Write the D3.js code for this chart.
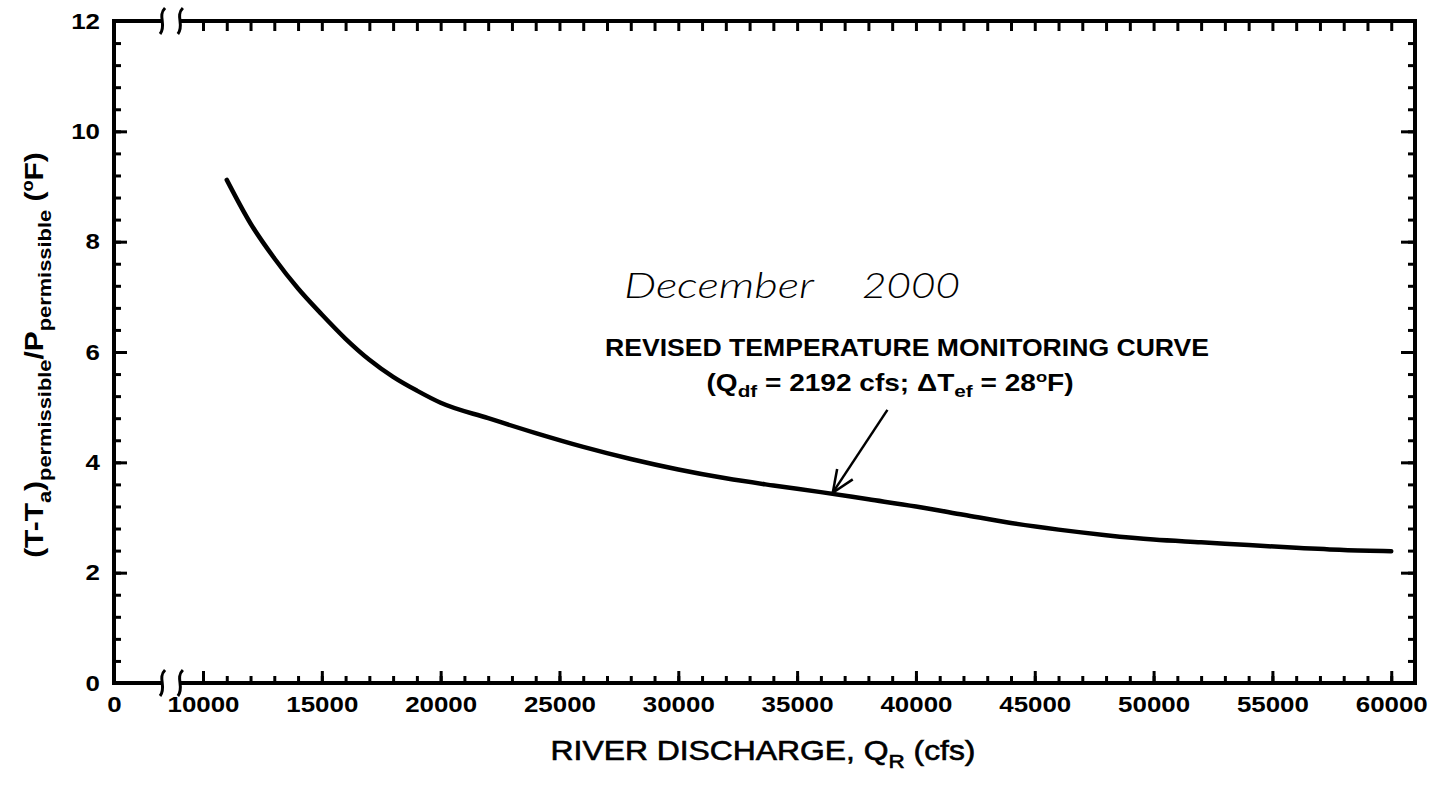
<!DOCTYPE html>
<html>
<head>
<meta charset="utf-8">
<script src="https://cdn.jsdelivr.net/npm/d3@7"></script>
<style>
body { margin: 0; background: #ffffff; }
</style>
</head>
<body>
<div id="chart"></div>
<script>
// river discharge (cfs) and permissible temperature rise (deg F)
var discharge = [11000, 12000, 13000, 14000, 15000, 16000, 17000, 18000, 19000, 20000,
                 22000, 24000, 26000, 28000, 30000, 32000, 34000, 36000, 38000, 40000,
                 42000, 44000, 46000, 48000, 50000, 52000, 54000, 56000, 58000, 60000];
var tempRise = [9.12, 8.33, 7.70, 7.15, 6.68, 6.24, 5.86, 5.55, 5.30, 5.08,
                4.80, 4.53, 4.28, 4.06, 3.87, 3.71, 3.58, 3.46, 3.33, 3.20,
                3.05, 2.90, 2.78, 2.68, 2.60, 2.55, 2.50, 2.45, 2.41, 2.39];

var xTickLabels = [0, 10000, 15000, 20000, 25000, 30000, 35000, 40000, 45000, 50000, 55000, 60000];
var yTickLabels = [0, 2, 4, 6, 8, 10, 12];
var axisBreak = [5400, 7400];
var arrowFrom = [38800, 4.95];
var arrowTo = [36500, 3.45];

function draw_monitoring_curve() {

    var width = 1446, height = 787;
    var font = "'Liberation Sans', Arial, sans-serif";

    var x = d3.scaleLinear().domain([0, 10000, 61000]).range([114, 203, 1415]);
    var y = d3.scaleLinear().domain([0, 12]).range([683, 21]);

    var svg = d3.select("#chart").append("svg")
        .attr("width", width)
        .attr("height", height)
        .style("background-color", "white");

    var minorX = d3.range(10000, 60001, 1000);
    var minorY = d3.range(0, 12.01, 0.4).map(function(d) { return +d.toFixed(1); });

    // tick marks, all pointing into the plot
    var ticks = svg.append("g").attr("class", "ticks");

    ticks.append("g")
        .attr("transform", "translate(0," + y(0) + ")")
        .call(d3.axisBottom(x).tickValues(minorX).tickSize(-7).tickFormat(""));
    ticks.append("g")
        .attr("transform", "translate(0," + y(0) + ")")
        .call(d3.axisBottom(x).tickValues(xTickLabels.slice(1)).tickSize(-12).tickFormat(""));
    ticks.append("g")
        .attr("transform", "translate(0," + y(12) + ")")
        .call(d3.axisTop(x).tickValues(minorX).tickSize(-10).tickFormat(""));
    ticks.append("g")
        .attr("transform", "translate(" + x(0) + ",0)")
        .call(d3.axisLeft(y).tickValues(minorY).tickSize(-7).tickFormat(""));
    ticks.append("g")
        .attr("transform", "translate(" + x(0) + ",0)")
        .call(d3.axisLeft(y).tickValues(yTickLabels).tickSize(-13).tickFormat(""));
    ticks.append("g")
        .attr("transform", "translate(" + x(61000) + ",0)")
        .call(d3.axisRight(y).tickValues(minorY).tickSize(-7).tickFormat(""));
    ticks.append("g")
        .attr("transform", "translate(" + x(61000) + ",0)")
        .call(d3.axisRight(y).tickValues(yTickLabels).tickSize(-14).tickFormat(""));

    ticks.selectAll(".domain").remove();
    ticks.selectAll("line").attr("stroke", "#000").attr("stroke-width", 3);

    // tick labels (the scanned digits are wide, so stretch them)
    var xl = svg.append("g")
        .attr("transform", "translate(0," + y(0) + ")")
        .call(d3.axisBottom(x).tickValues(xTickLabels).tickSize(0).tickPadding(13).tickFormat(d3.format("d")));
    var yl = svg.append("g")
        .attr("transform", "translate(" + x(0) + ",0)")
        .call(d3.axisLeft(y).tickValues(yTickLabels).tickSize(0).tickPadding(14).tickFormat(d3.format("d")));
    [xl, yl].forEach(function(g) {
        g.select(".domain").remove();
        g.selectAll("text")
            .style("font-family", font)
            .style("font-size", "22px")
            .style("font-weight", "bold")
            .attr("fill", "#000")
            .attr("textLength", function(d) { return String(d).length * 14.4; })
            .attr("lengthAdjust", "spacingAndGlyphs");
    });

    // frame with the broken x axis
    var frame = svg.append("g").attr("class", "frame")
        .attr("stroke", "#000").attr("stroke-width", 4).attr("fill", "none");
    frame.append("line").attr("x1", x(0)).attr("x2", x(0)).attr("y1", y(12) - 2).attr("y2", y(0) + 2);
    frame.append("line").attr("x1", x(61000)).attr("x2", x(61000)).attr("y1", y(12) - 2).attr("y2", y(0) + 2);
    [12, 0].forEach(function(v) {
        frame.append("line").attr("x1", x(0)).attr("x2", x(axisBreak[0])).attr("y1", y(v)).attr("y2", y(v));
        frame.append("line").attr("x1", x(axisBreak[1])).attr("x2", x(61000)).attr("y1", y(v)).attr("y2", y(v));
        axisBreak.forEach(function(b) {
            var bx = x(b), by = y(v);
            frame.append("path")
                .attr("stroke-width", 3)
                .attr("d", "M" + (bx + 3) + "," + (by - 13) +
                    " C" + (bx - 5) + "," + (by - 5) + " " + (bx + 5) + "," + (by + 4) + " " + (bx - 2) + "," + (by + 13));
        });
    });

    // the curve
    var line = d3.line()
        .x(function(d, i) { return x(discharge[i]); })
        .y(function(d) { return y(d); })
        .curve(d3.curveMonotoneX);

    svg.append("path")
        .datum(tempRise)
        .attr("d", line)
        .attr("fill", "none")
        .attr("stroke", "#000")
        .attr("stroke-width", 4.5)
        .attr("stroke-linecap", "round");

    // arrow to the curve
    var ax0 = x(arrowFrom[0]), ay0 = y(arrowFrom[1]);
    var ax1 = x(arrowTo[0]), ay1 = y(arrowTo[1]);
    var ang = Math.atan2(ay1 - ay0, ax1 - ax0);
    var arrow = svg.append("g").attr("stroke", "#000").attr("stroke-width", 2.5).attr("fill", "none");
    arrow.append("line").attr("x1", ax0).attr("y1", ay0).attr("x2", ax1).attr("y2", ay1);
    [-0.4, 0.4].forEach(function(a) {
        arrow.append("line")
            .attr("x1", ax1).attr("y1", ay1)
            .attr("x2", ax1 - 24 * Math.cos(ang + a))
            .attr("y2", ay1 - 24 * Math.sin(ang + a));
    });

    // handwritten date note
    var note = svg.append("text")
        .attr("y", 298)
        .style("font-family", "Lato, 'DejaVu Sans', sans-serif")
        .style("font-style", "italic")
        .style("font-weight", "300")
        .style("font-size", "36px");
    note.append("tspan").attr("x", 624).attr("textLength", 190)
        .attr("lengthAdjust", "spacingAndGlyphs").text("December");
    note.append("tspan").attr("x", 862).attr("textLength", 98)
        .attr("lengthAdjust", "spacingAndGlyphs").text("2000");

    svg.append("text")
        .attr("x", 907).attr("y", 356)
        .attr("text-anchor", "middle")
        .attr("textLength", 604)
        .attr("lengthAdjust", "spacingAndGlyphs")
        .style("font-family", font)
        .style("font-weight", "bold")
        .style("font-size", "24px")
        .text("REVISED TEMPERATURE MONITORING CURVE");

    var sub = svg.append("g")
        .attr("transform", "translate(890,391) scale(1.22,1)")
        .append("text")
        .attr("text-anchor", "middle")
        .style("font-family", font)
        .style("font-weight", "bold")
        .style("font-size", "23px");
    sub.append("tspan").text("(Q");
    sub.append("tspan").attr("dy", 6).style("font-size", "17px").text("df");
    sub.append("tspan").attr("dy", -6).text(" = 2192 cfs; \u0394T");
    sub.append("tspan").attr("dy", 6).style("font-size", "17px").text("ef");
    sub.append("tspan").attr("dy", -6).text(" = 28");
    sub.append("tspan").attr("dy", -9).style("font-size", "15px").text("o");
    sub.append("tspan").attr("dy", 9).text("F)");

    // axis titles
    var xt = svg.append("g")
        .attr("transform", "translate(763,760) scale(1.18,1)")
        .append("text")
        .attr("text-anchor", "middle")
        .attr("stroke", "#000")
        .attr("stroke-width", 0.6)
        .style("font-family", font)
        .style("font-size", "27px");
    xt.append("tspan").text("RIVER DISCHARGE, Q");
    xt.append("tspan").attr("dy", 8).style("font-size", "19px").text("R");
    xt.append("tspan").attr("dy", -8).text(" (cfs)");

    var yt = svg.append("g")
        .attr("transform", "translate(43,355) rotate(-90) scale(1.15,1)")
        .append("text")
        .attr("text-anchor", "middle")
        .style("font-family", font)
        .style("font-weight", "bold")
        .style("font-size", "26px");
    yt.append("tspan").text("(T-T");
    yt.append("tspan").attr("dy", 8).style("font-size", "19px").text("a");
    yt.append("tspan").attr("dy", -8).text(")");
    yt.append("tspan").attr("dy", 8).style("font-size", "19px").text("permissible");
    yt.append("tspan").attr("dy", -8).text("/P");
    yt.append("tspan").attr("dy", 8).style("font-size", "19px").text("permissible");
    yt.append("tspan").attr("dy", -8).text(" (");
    yt.append("tspan").attr("dy", -10).style("font-size", "16px").text("o");
    yt.append("tspan").attr("dy", 10).text("F)");
}

draw_monitoring_curve();
</script>
</body>
</html>
